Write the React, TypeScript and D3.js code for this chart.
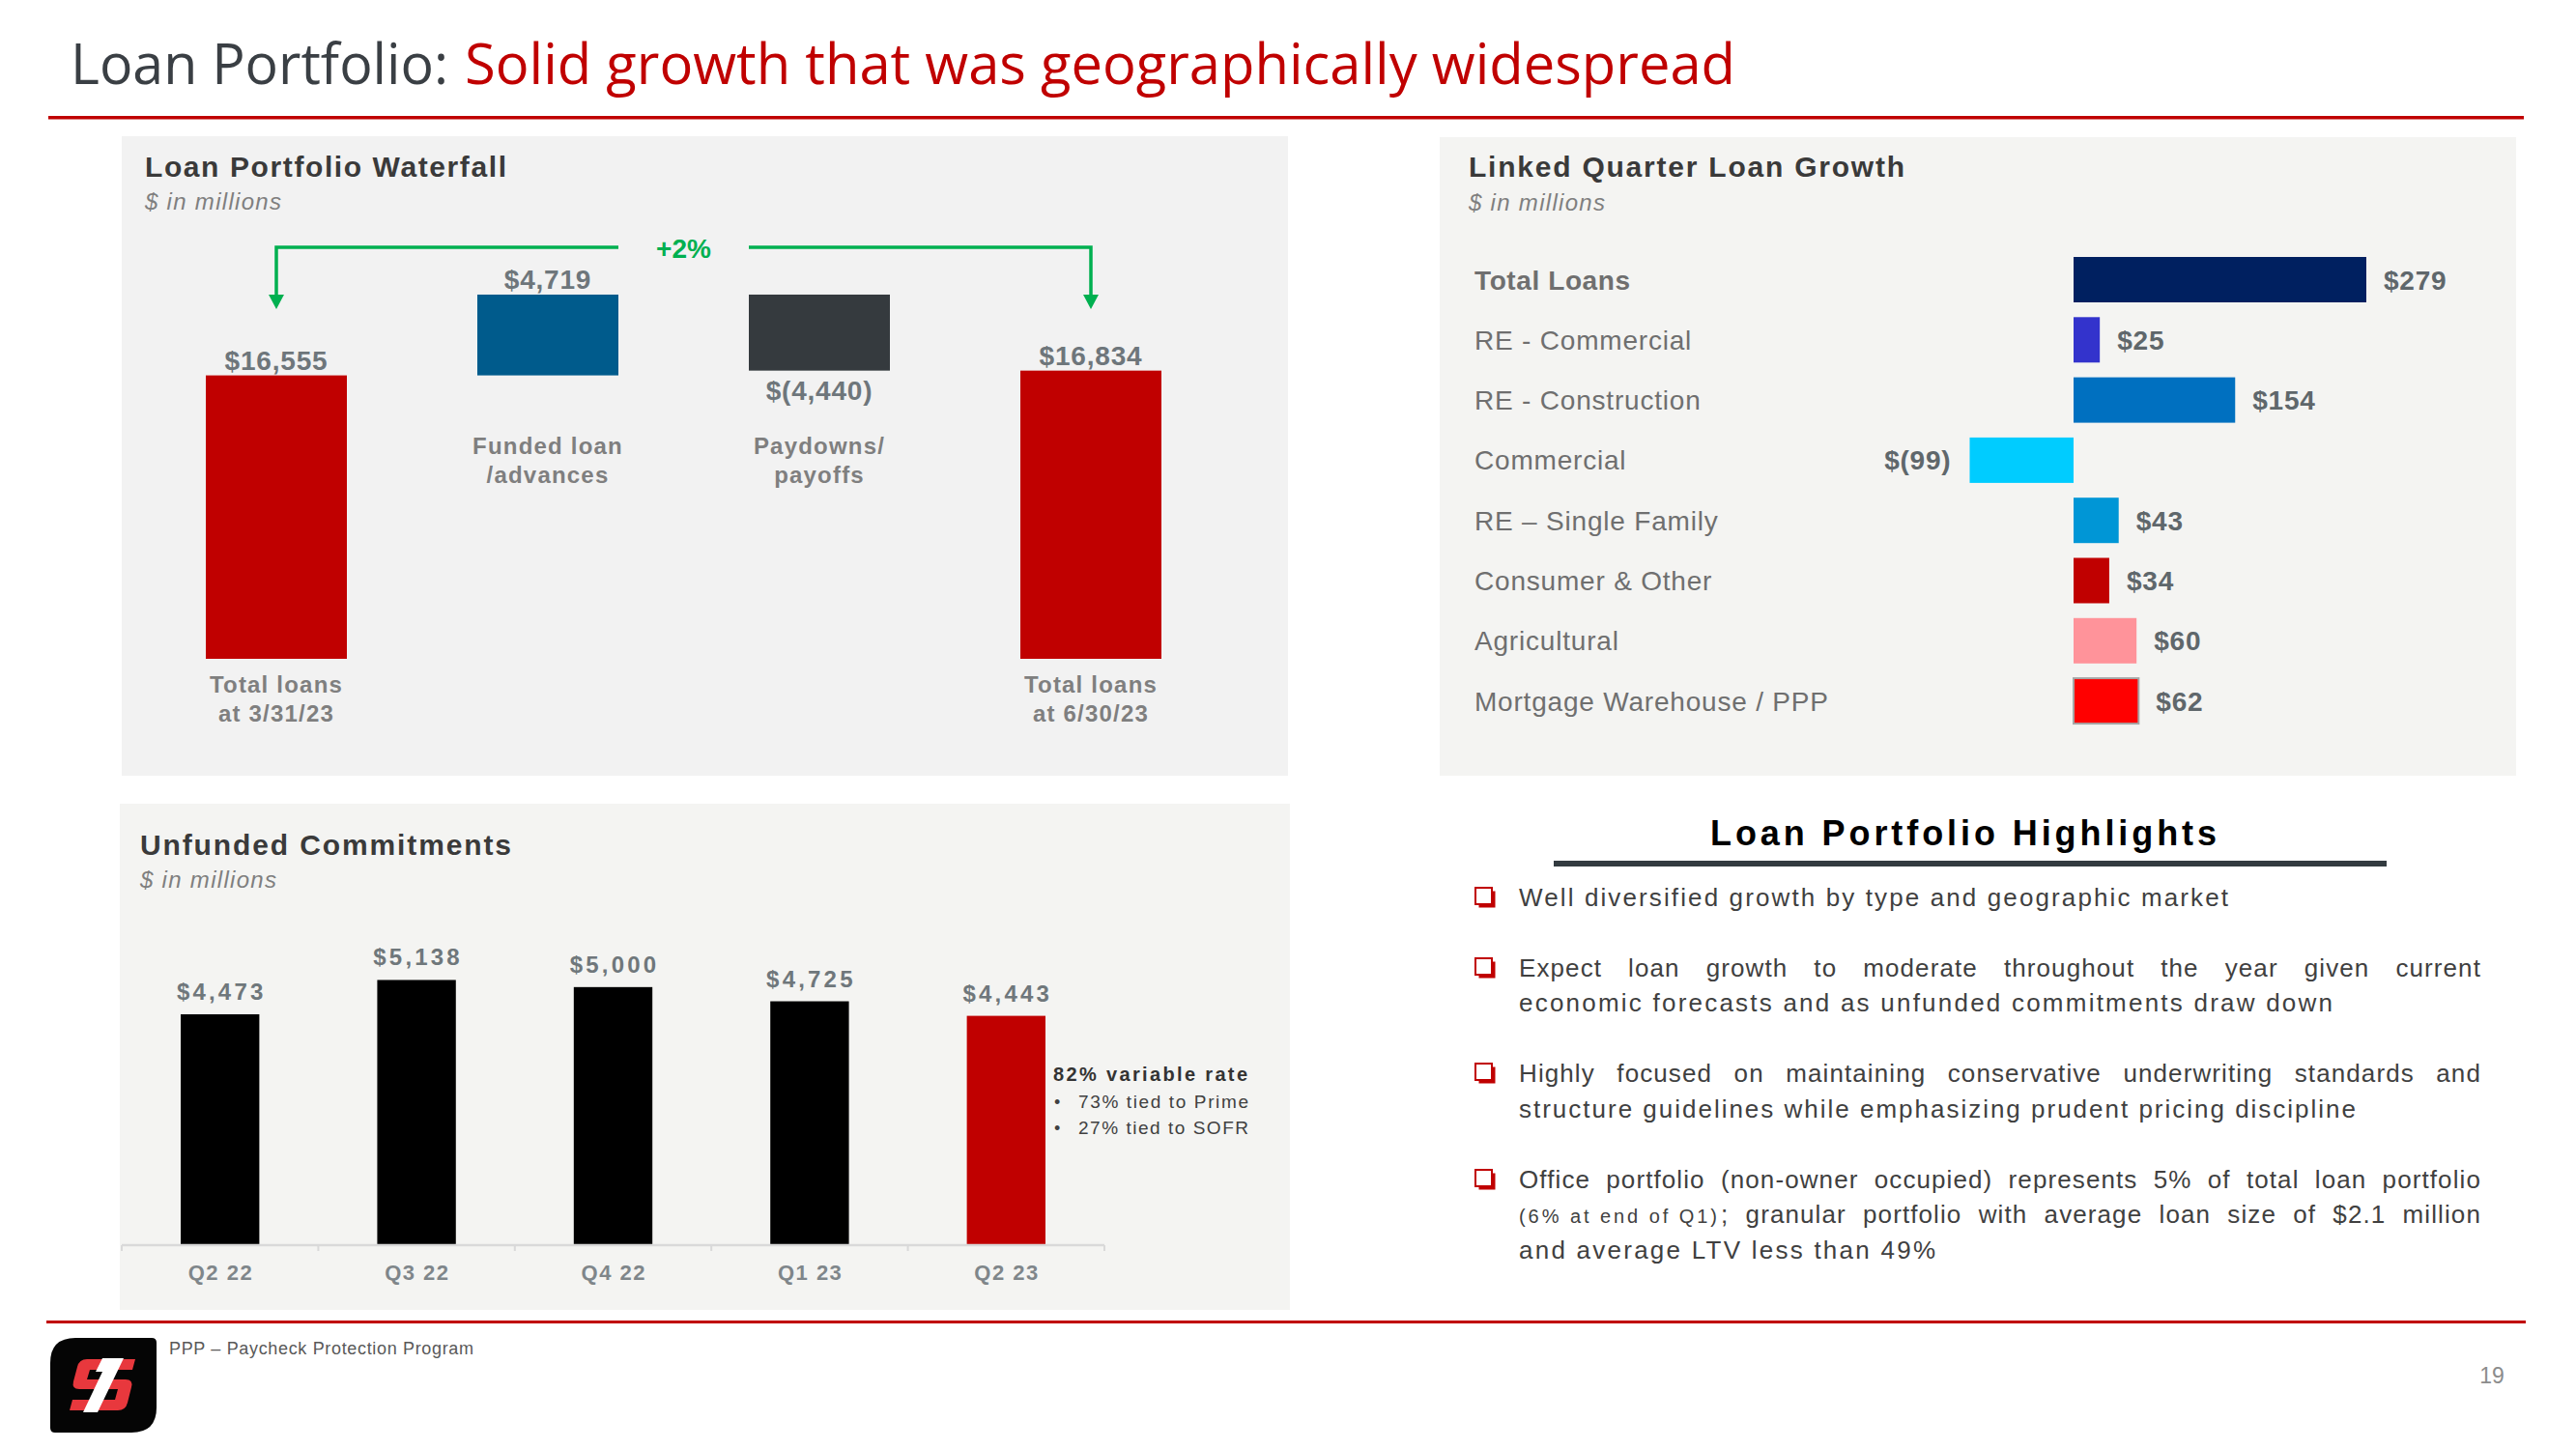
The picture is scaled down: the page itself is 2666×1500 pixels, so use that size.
import React from "react";
import * as d3 from "d3";

const W = 2666;
const H = 1500;
const SANS = "'Liberation Sans', Arial, sans-serif";
const TITLE_FONT = "'Open Sans', 'Liberation Sans', sans-serif";

// ---------- Waterfall data ----------
const wfCategories = ["start", "funded", "paydowns", "end"];
const wfLabelLines = [
  ["Total loans", "at 3/31/23"],
  ["Funded loan", "/advances"],
  ["Paydowns/", "payoffs"],
  ["Total loans", "at 6/30/23"],
];
const wfValues = [16555, 4719, -4440, 16834];
const wfValueLabels = ["$16,555", "$4,719", "$(4,440)", "$16,834"];
const wfKinds = ["total", "delta", "delta", "total"];
const wfColors = ["#C00000", "#005B8C", "#353A3E", "#C00000"];
const wfGrowthLabel = "+2%";

// ---------- Linked quarter data ----------
const lqCategories = [
  "Total Loans",
  "RE - Commercial",
  "RE - Construction",
  "Commercial",
  "RE \u2013 Single Family",
  "Consumer & Other",
  "Agricultural",
  "Mortgage Warehouse / PPP",
];
const lqValues = [279, 25, 154, -99, 43, 34, 60, 62];
const lqLabels = ["$279", "$25", "$154", "$(99)", "$43", "$34", "$60", "$62"];
const lqColors = ["#002060", "#3333CC", "#0070C0", "#00CCFF", "#0096D6", "#C00000", "#FF939A", "#FF0000"];

// ---------- Unfunded commitments data ----------
const ucQuarters = ["Q2 22", "Q3 22", "Q4 22", "Q1 23", "Q2 23"];
const ucValues = [4473, 5138, 5000, 4725, 4443];
const ucLabels = ["$4,473", "$5,138", "$5,000", "$4,725", "$4,443"];
const ucColors = ["#000000", "#000000", "#000000", "#000000", "#C00000"];
const ucNoteTitle = "82% variable rate";
const ucNoteLines = ["73% tied to Prime", "27% tied to SOFR"];

// ---------- Highlights ----------
const hlTitle = "Loan Portfolio Highlights";

let _ctx: CanvasRenderingContext2D | null = null;
function measure(text: string, size: number, weight = "normal", family = SANS) {
  if (!_ctx) _ctx = document.createElement("canvas").getContext("2d");
  if (!_ctx) return text.length * size * 0.5;
  _ctx.font = `${weight} ${size}px ${family}`;
  return _ctx.measureText(text).width;
}

function Txt(props: any) {
  const { x, y, size, weight = 400, fill = "#404040", anchor = "start", italic = false, ls = 0, w, family = SANS, children } = props;
  return (
    <text
      x={x}
      y={y}
      fontSize={size}
      fontWeight={weight}
      fill={fill}
      textAnchor={anchor}
      fontStyle={italic ? "italic" : "normal"}
      letterSpacing={ls}
      fontFamily={family}
      textLength={w}
      lengthAdjust={w ? "spacing" : undefined}
    >
      {children}
    </text>
  );
}

function Justified({ x, y, width, text, size, fill, ls = 0, weight = "normal" }: any) {
  const words = text.split(" ");
  const widths = words.map((wd: string) => measure(wd, size, weight) + ls * wd.length);
  const total = widths.reduce((a: number, b: number) => a + b, 0);
  const gap = (width - total) / (words.length - 1);
  let cx = x;
  return (
    <g>
      {words.map((wd: string, i: number) => {
        const el = (
          <text key={i} x={cx} y={y} fontSize={size} fontFamily={SANS} fill={fill} letterSpacing={ls} fontWeight={weight}>
            {wd}
          </text>
        );
        cx += widths[i] + gap;
        return el;
      })}
    </g>
  );
}

function Bullet({ x, y }: any) {
  return (
    <g>
      <rect x={x + 3.5} y={y - 15.5} width={17} height={17} fill="#C00000" />
      <rect x={x} y={y - 19} width={17} height={17} fill="#FFFFFF" stroke="#C00000" strokeWidth={2} />
    </g>
  );
}

function Waterfall() {
  const x = d3.scalePoint<string>().domain(wfCategories).range([286, 1129]);
  const y = d3.scaleLinear().domain([0, 22000]).range([682, 292.1]);
  const bw = 146;
  let cum = 0;
  const bars = wfValues.map((v, i) => {
    let a: number, b: number;
    if (wfKinds[i] === "total") {
      a = 0;
      b = v;
      cum = v;
    } else {
      a = cum;
      b = cum + v;
      cum = b;
    }
    return { cat: wfCategories[i], lo: Math.min(a, b), hi: Math.max(a, b), v, i };
  });
  const maxHi = d3.max(bars, (d) => d.hi) as number;
  const lineY = y(maxHi) - 49;
  const xl = x(wfCategories[0]) as number;
  const xr = x(wfCategories[3]) as number;
  const gapL = (x(wfCategories[1]) as number) + bw / 2;
  const gapR = (x(wfCategories[2]) as number) - bw / 2;
  const green = "#00B050";
  const tipY = lineY + 64;
  return (
    <g>
      <rect x={126} y={141} width={1207} height={662} fill="#F2F2F2" />
      <Txt x={150} y={183} size={30} weight={700} fill="#3A3A3A" w={374}>Loan Portfolio Waterfall</Txt>
      <Txt x={150} y={217} size={24} italic fill="#7F7F7F" w={141}>$ in millions</Txt>
      {bars.map((d) => (
        <rect key={d.cat} x={(x(d.cat) as number) - bw / 2} y={y(d.hi)} width={bw} height={y(d.lo) - y(d.hi)} fill={wfColors[d.i]} />
      ))}
      {bars.map((d) => {
        const cx = x(d.cat) as number;
        const below = d.v < 0;
        const ty = below ? y(d.lo) + 30 : y(d.hi) - 6;
        return (
          <Txt key={"v" + d.cat} x={cx} y={ty} size={28} weight={700} fill="#6E767B" anchor="middle" ls={0.8}>
            {wfValueLabels[d.i]}
          </Txt>
        );
      })}
      {bars.map((d) => {
        const cx = x(d.cat) as number;
        const base = wfKinds[d.i] === "total" ? y(0) + 35 : 470;
        return wfLabelLines[d.i].map((ln, k) => (
          <Txt key={"c" + d.cat + k} x={cx} y={base + k * 30} size={24} weight={700} fill="#7F7F7F" anchor="middle" ls={1.2}>
            {ln}
          </Txt>
        ));
      })}
      <g stroke={green} strokeWidth={3.5} fill="none">
        <polyline points={`${xl},${tipY - 14} ${xl},${lineY} ${gapL},${lineY}`} />
        <polyline points={`${gapR},${lineY} ${xr},${lineY} ${xr},${tipY - 14}`} />
      </g>
      <polygon points={`${xl - 8},${tipY - 15} ${xl + 8},${tipY - 15} ${xl},${tipY}`} fill={green} />
      <polygon points={`${xr - 8},${tipY - 15} ${xr + 8},${tipY - 15} ${xr},${tipY}`} fill={green} />
      <Txt x={(gapL + gapR) / 2} y={lineY + 11} size={28} weight={700} fill={green} anchor="middle">
        {wfGrowthLabel}
      </Txt>
    </g>
  );
}

function LinkedQuarter() {
  const x = d3.scaleLinear().domain([-99, 279]).range([2038.5, 2449]);
  const y = d3.scalePoint<string>().domain(lqCategories).range([258.35, 756.75]).padding(0.5);
  const bh = 47;
  return (
    <g>
      <rect x={1490} y={142} width={1114} height={661} fill="#F4F4F2" />
      <Txt x={1520} y={183} size={30} weight={700} fill="#3A3A3A" w={451}>Linked Quarter Loan Growth</Txt>
      <Txt x={1520} y={218} size={24} italic fill="#7F7F7F" w={141}>$ in millions</Txt>
      {lqCategories.map((c, i) => {
        const cy = y(c) as number;
        const v = lqValues[i];
        const x0 = x(Math.min(0, v));
        const x1 = x(Math.max(0, v));
        return (
          <g key={c}>
            <Txt x={1526} y={cy + 10} size={28} weight={i === 0 ? 700 : 400} fill="#6F6F6F" ls={i === 0 ? 0.6 : 0.8}>
              {c}
            </Txt>
            <rect
              x={x0}
              y={cy - bh / 2}
              width={x1 - x0}
              height={bh}
              fill={lqColors[i]}
              stroke={i === lqCategories.length - 1 ? "#A6A6A6" : "none"}
              strokeWidth={2}
            />
            <Txt
              x={v < 0 ? x0 - 19 : x1 + 18}
              y={cy + 10}
              size={28}
              weight={700}
              fill="#5F676B"
              anchor={v < 0 ? "end" : "start"}
              ls={0.8}
            >
              {lqLabels[i]}
            </Txt>
          </g>
        );
      })}
    </g>
  );
}

function Unfunded() {
  const x = d3.scaleBand<string>().domain(ucQuarters).range([126, 1143]).paddingInner(0.6).paddingOuter(0.3);
  const y = d3.scaleLinear().domain([0, 6000]).range([1289, 968.4]);
  const ticks = d3.range(ucQuarters.length + 1).map((k) => 126 + k * ((1143 - 126) / ucQuarters.length));
  return (
    <g>
      <rect x={124} y={832} width={1211} height={524} fill="#F4F4F2" />
      <Txt x={145} y={885} size={30} weight={700} fill="#3A3A3A" w={384}>Unfunded Commitments</Txt>
      <Txt x={145} y={919} size={24} italic fill="#7F7F7F" w={141}>$ in millions</Txt>
      {ucQuarters.map((q, i) => (
        <rect key={q} x={x(q)} y={y(ucValues[i])} width={x.bandwidth()} height={y(0) - y(ucValues[i])} fill={ucColors[i]} />
      ))}
      {ucQuarters.map((q, i) => (
        <Txt key={"l" + q} x={(x(q) as number) + x.bandwidth() / 2 + 1.5} y={y(ucValues[i]) - 15} size={24} weight={700} fill="#6F777B" anchor="middle" ls={3.2}>
          {ucLabels[i]}
        </Txt>
      ))}
      <line x1={126} x2={1143} y1={y(0)} y2={y(0)} stroke="#D9D9D9" strokeWidth={2.5} />
      {ticks.map((t, k) => (
        <line key={k} x1={t} x2={t} y1={y(0)} y2={y(0) + 6} stroke="#D9D9D9" strokeWidth={2} />
      ))}
      {ucQuarters.map((q) => (
        <Txt key={"t" + q} x={(x(q) as number) + x.bandwidth() / 2 + 0.75} y={1325} size={22} weight={700} fill="#7F868A" anchor="middle" ls={1.5}>
          {q}
        </Txt>
      ))}
      <Txt x={1090} y={1119} size={20} weight={700} fill="#333333" w={201}>{ucNoteTitle}</Txt>
      {ucNoteLines.map((ln, k) => (
        <g key={k}>
          <Txt x={1091} y={1147 + k * 27} size={18} fill="#404040">{"\u2022"}</Txt>
          <Txt x={1116} y={1147 + k * 27} size={19} fill="#404040" w={176}>{ln}</Txt>
        </g>
      ))}
    </g>
  );
}

function Highlights() {
  const fs = 26;
  const col = "#404040";
  const x0 = 1572;
  const right = 2568;
  const fullW = right - x0;
  const ls = 1.1;
  return (
    <g>
      <Txt x={1770} y={875} size={36} weight={700} fill="#000000" w={524}>{hlTitle}</Txt>
      <rect x={1608} y={891} width={862} height={6} fill="#333B40" />

      <Bullet x={1527} y={938} />
      <Txt x={x0} y={938} size={fs} fill={col} w={734}>Well diversified growth by type and geographic market</Txt>

      <Bullet x={1527} y={1011} />
      <Justified x={x0} y={1011} width={fullW} size={fs} fill={col} ls={ls} text="Expect loan growth to moderate throughout the year given current" />
      <Txt x={x0} y={1047} size={fs} fill={col} w={842}>economic forecasts and as unfunded commitments draw down</Txt>

      <Bullet x={1527} y={1120} />
      <Justified x={x0} y={1120} width={fullW} size={fs} fill={col} ls={ls} text="Highly focused on maintaining conservative underwriting standards and" />
      <Txt x={x0} y={1157} size={fs} fill={col} w={866}>structure guidelines while emphasizing prudent pricing discipline</Txt>

      <Bullet x={1527} y={1230} />
      <Justified x={x0} y={1230} width={fullW} size={fs} fill={col} ls={ls} text="Office portfolio (non-owner occupied) represents 5% of total loan portfolio" />
      <Txt x={x0} y={1266} size={20} fill={col} w={205}>(6% at end of Q1)</Txt>
      <Justified x={1781} y={1266} width={right - 1781} size={fs} fill={col} ls={ls} text="; granular portfolio with average loan size of $2.1 million" />
      <Txt x={x0} y={1303} size={fs} fill={col} w={431}>and average LTV less than 49%</Txt>
    </g>
  );
}

function Logo() {
  // leaf-shaped black tile, blocky red "S", white slanted "1"
  const x0 = 52, y0 = 1385, x1 = 162, y1 = 1483, R = 26, r = 5;
  const tile = `M${x0 + R},${y0} L${x1 - r},${y0} Q${x1},${y0} ${x1},${y0 + r} L${x1},${y1 - R} Q${x1},${y1} ${x1 - R},${y1} L${x0 + r},${y1} Q${x0},${y1} ${x0},${y1 - r} L${x0},${y0 + R} Q${x0},${y0} ${x0 + R},${y0} Z`;
  const s =
    "M83,1407 L140,1407 L137,1418 L93,1418 L90,1428 L130,1428 Q138,1428 136,1436 L132,1452 Q130,1460 122,1460 L72,1460 L75,1449 L119,1449 L122,1438 L82,1438 Q74,1438 76,1430 L80,1415 Q82,1407 90,1407 Z";
  return (
    <g>
      <path d={tile} fill="#050505" />
      <path d={s} fill="#E8383D" />
      <polygon points="106,1406 128,1406 101,1462 86,1462 106,1420 99,1420" fill="#FFFFFF" />
    </g>
  );
}

export default function App() {
  return (
    <svg width={W} height={H} viewBox={`0 0 ${W} ${H}`} style={{ position: "absolute", left: 0, top: 0, display: "block" }}>
      <rect x={0} y={0} width={W} height={H} fill="#FFFFFF" />
      <text x={73} y={87} fontSize={59} fontFamily={TITLE_FONT} fill="#3A3F44" textLength={391} lengthAdjust="spacingAndGlyphs">
        Loan Portfolio:
      </text>
      <text x={481} y={87} fontSize={59} fontFamily={TITLE_FONT} fill="#C00000" textLength={1315} lengthAdjust="spacingAndGlyphs">
        Solid growth that was geographically widespread
      </text>
      <rect x={50} y={120} width={2562} height={3.5} fill="#C00000" />

      <Waterfall />
      <LinkedQuarter />
      <Unfunded />
      <Highlights />

      <rect x={48} y={1367} width={2566} height={3} fill="#C00000" />
      <Logo />
      <Txt x={175} y={1402} size={18} fill="#595959" w={315}>PPP {"\u2013"} Paycheck Protection Program</Txt>
      <Txt x={2579} y={1432} size={23} fill="#8C8C8C" anchor="middle">19</Txt>
    </svg>
  );
}
